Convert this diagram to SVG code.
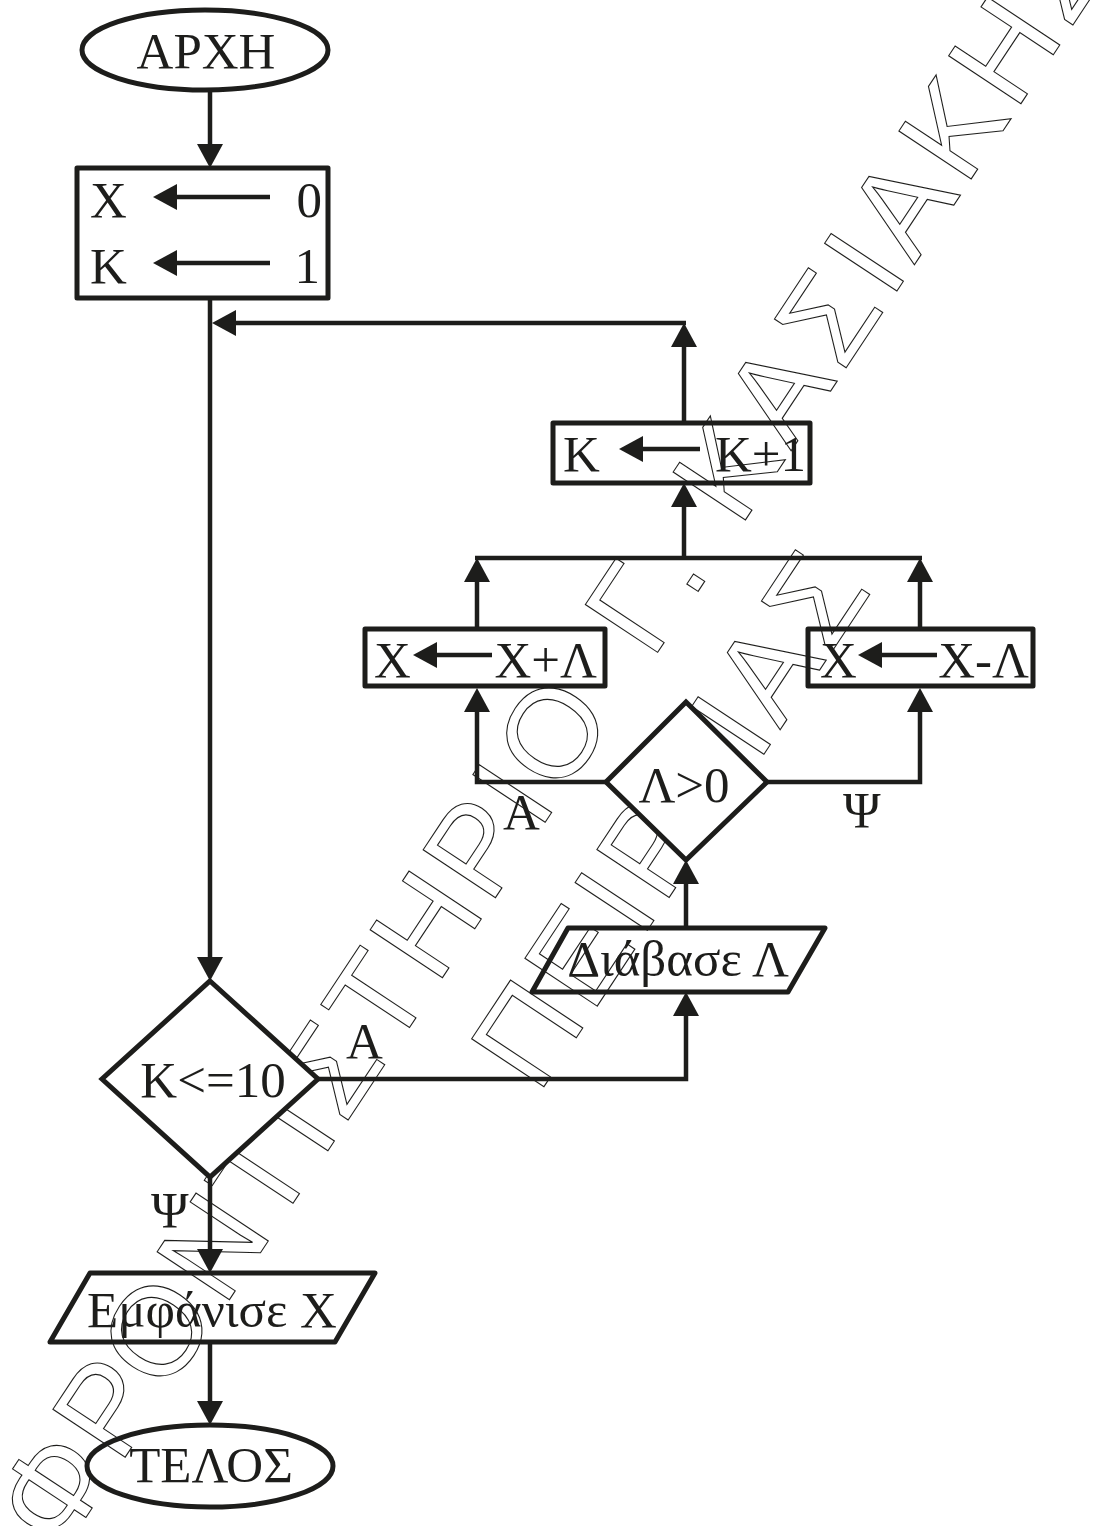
<svg xmlns="http://www.w3.org/2000/svg" width="1103" height="1526" viewBox="0 0 1103 1526">
<style>
.t{font-family:"Liberation Serif","Times New Roman",serif;font-size:51px;fill:#1d1d1b}
.n{fill:none;stroke:#1d1d1b;stroke-width:5;stroke-linejoin:round}
.d{fill:#fff;stroke:#1d1d1b;stroke-width:5;stroke-linejoin:miter}
.c{fill:none;stroke:#1d1d1b;stroke-width:4.5}
.a{marker-end:url(#ah)}
.w{font-family:"Liberation Sans",Arial,sans-serif;font-size:126px;fill:none;stroke:#1d1d1b;stroke-width:1.1}
</style>
<defs>
<marker id="ah" markerUnits="userSpaceOnUse" markerWidth="24" markerHeight="26" refX="0" refY="13" orient="auto" viewBox="0 0 24 26">
<path d="M0,0 L24,13 L0,26 z" fill="#1d1d1b"/>
</marker>
</defs>
<rect width="1103" height="1526" fill="#fff"/>
<g id="watermark">
<text class="w" transform="translate(1024,99) rotate(-56.5)" x="-1745 -1639 -1555 -1450 -1357 -1273 -1231 -1146 -1064 -968 -879 -838 -725 -674 -602 -558 -515 -422 -329 -242 -199 -106 -16 82" y="0">ΦΡΟΝΤΙΣΤΗΡΙΟ Γ. ΚΑΣΙΑΚΗΣ</text>
<text class="w" transform="translate(547,1082) rotate(-56.5)" x="-16" y="0" letter-spacing="5.7">ΠΕΙΡΑΙΑΣ</text>
</g>
<g id="connectors">
<path class="c a" d="M210,90 V144"/>
<path class="c a" d="M210,298 V957"/>
<path class="c a" d="M210,1177 V1249"/>
<path class="c a" d="M210,1342 V1401"/>
<path class="c a" d="M318,1079 H686 V1016"/>
<path class="c a" d="M686,928 V884"/>
<path class="c a" d="M606,782 H477 V712"/>
<path class="c a" d="M767,782 H920 V712"/>
<path class="c a" d="M477,629 V582"/>
<path class="c a" d="M920,629 V582"/>
<path class="c" d="M475,558 H922"/>
<path class="c a" d="M684,558 V507"/>
<path class="c a" d="M684,423 V347"/>
<path class="c a" d="M686,323 H236"/>
</g>
<g id="start">
<ellipse class="n" cx="205" cy="50" rx="123" ry="40"/>
<text class="t" x="206" y="68" text-anchor="middle">ΑΡΧΗ</text>
</g>
<g id="init">
<rect class="n" x="77" y="168" width="251" height="130"/>
<text class="t" x="90" y="217">Χ</text>
<path class="c a" d="M270,197 H177" stroke-width="5"/>
<text class="t" x="322" y="217" text-anchor="end">0</text>
<text class="t" x="90" y="283">Κ</text>
<path class="c a" d="M270,263 H177" stroke-width="5"/>
<text class="t" x="320" y="283" text-anchor="end">1</text>
</g>
<g id="cond">
<polygon class="d" points="210,981 318,1079 210,1177 102,1079"/>
<text class="t" x="213" y="1097" text-anchor="middle">Κ&lt;=10</text>
<text class="t" x="346" y="1058">Α</text>
<text class="t" x="151" y="1227">Ψ</text>
</g>
<g id="output">
<polygon class="n" points="90,1273 375,1273 335,1342 50,1342"/>
<text class="t" x="212" y="1327" text-anchor="middle">Εμφάνισε Χ</text>
</g>
<g id="end">
<ellipse class="n" cx="210" cy="1466" rx="123" ry="41"/>
<text class="t" x="211" y="1482" text-anchor="middle">ΤΕΛΟΣ</text>
</g>
<g id="read">
<polygon class="n" points="568,928 825,928 788,992 532,992"/>
<text class="t" x="678" y="976" text-anchor="middle">Διάβασε Λ</text>
</g>
<g id="cond2">
<polygon class="d" points="686,702 767,782 686,860 606,782"/>
<text class="t" x="684" y="802" text-anchor="middle">Λ&gt;0</text>
<text class="t" x="503" y="829">Α</text>
<text class="t" x="843" y="827">Ψ</text>
</g>
<g id="xplus">
<rect class="n" x="365" y="629" width="240" height="57"/>
<text class="t" x="374" y="677">Χ</text>
<path class="c a" d="M492,655 H437" stroke-width="5"/>
<text class="t" x="597" y="677" text-anchor="end">Χ+Λ</text>
</g>
<g id="xminus">
<rect class="n" x="808" y="629" width="225" height="57"/>
<text class="t" x="820" y="677">Χ</text>
<path class="c a" d="M937,655 H882" stroke-width="5"/>
<text class="t" x="1029" y="677" text-anchor="end">Χ-Λ</text>
</g>
<g id="kplus">
<rect class="n" x="553" y="423" width="257" height="60"/>
<text class="t" x="563" y="471">Κ</text>
<path class="c a" d="M700,449 H643" stroke-width="5"/>
<text class="t" x="806" y="471" text-anchor="end">Κ+1</text>
</g>
</svg>
